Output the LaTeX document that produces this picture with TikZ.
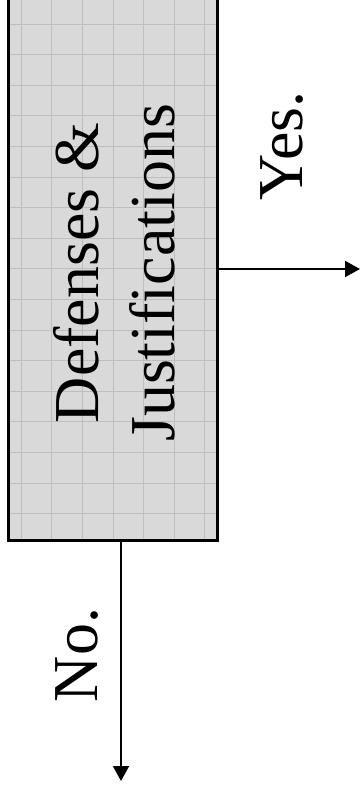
\documentclass[tikz,border=0pt]{standalone}
\usepackage{fontspec}
\setmainfont{Liberation Serif}
\usepackage{xcolor}
\usepackage{tikz}
\usetikzlibrary{arrows.meta, positioning}
\definecolor{boxgray}{RGB}{217,217,217}
\definecolor{gridgray}{RGB}{190,190,190}
\tikzstyle{arrow}     = [line width=2pt, -{Triangle[length=15pt, width=16pt]}]
\tikzstyle{gridline}  = [draw=gridgray, line width=1pt]
\tikzstyle{block}     = [rectangle, draw, line width=3pt, fill=boxgray, inner sep=0pt,
                         minimum width=208pt, minimum height=544pt,
                         path picture={\draw[gridline, step=30.6pt]
                                       (path picture bounding box.south west) grid (path picture bounding box.north east);}]
\tikzstyle{bigtext}   = [font=\fontsize{64}{76}\selectfont, rotate=90, inner sep=0pt]
\tikzset{every node/.style={align=center}}

\begin{document}
\begin{tikzpicture}[x=1pt, y=1pt]
    % origin sits on the lower left corner of the box, so the grid lines up with it
    \useasboundingbox (-9,-258) rectangle (353,541);
    \clip (-9,-258) rectangle (353,541);
    % the shaded box, its top runs off the page
    \node (defenses) at (104,272) [block] {};
    % shifts are in the turned frame: x runs up the page, y runs to the left
    \node (deflabel) at (defenses.center) [bigtext, xshift=-4pt, yshift=-1pt] {Defenses \&\\Justifications};
    % outcomes
    \coordinate (yesend) at (351,272);
    \coordinate (noend)  at (112,-240);
    \draw [arrow] (defenses.east) -- (yesend);
    \draw [arrow] (defenses.south -| noend) -- (noend);
    \node (yes) at (293,395)  [bigtext, anchor=base] {Yes.};
    \node (no)  at (88,-114)  [bigtext, anchor=base] {No.};
\end{tikzpicture}
\end{document}
